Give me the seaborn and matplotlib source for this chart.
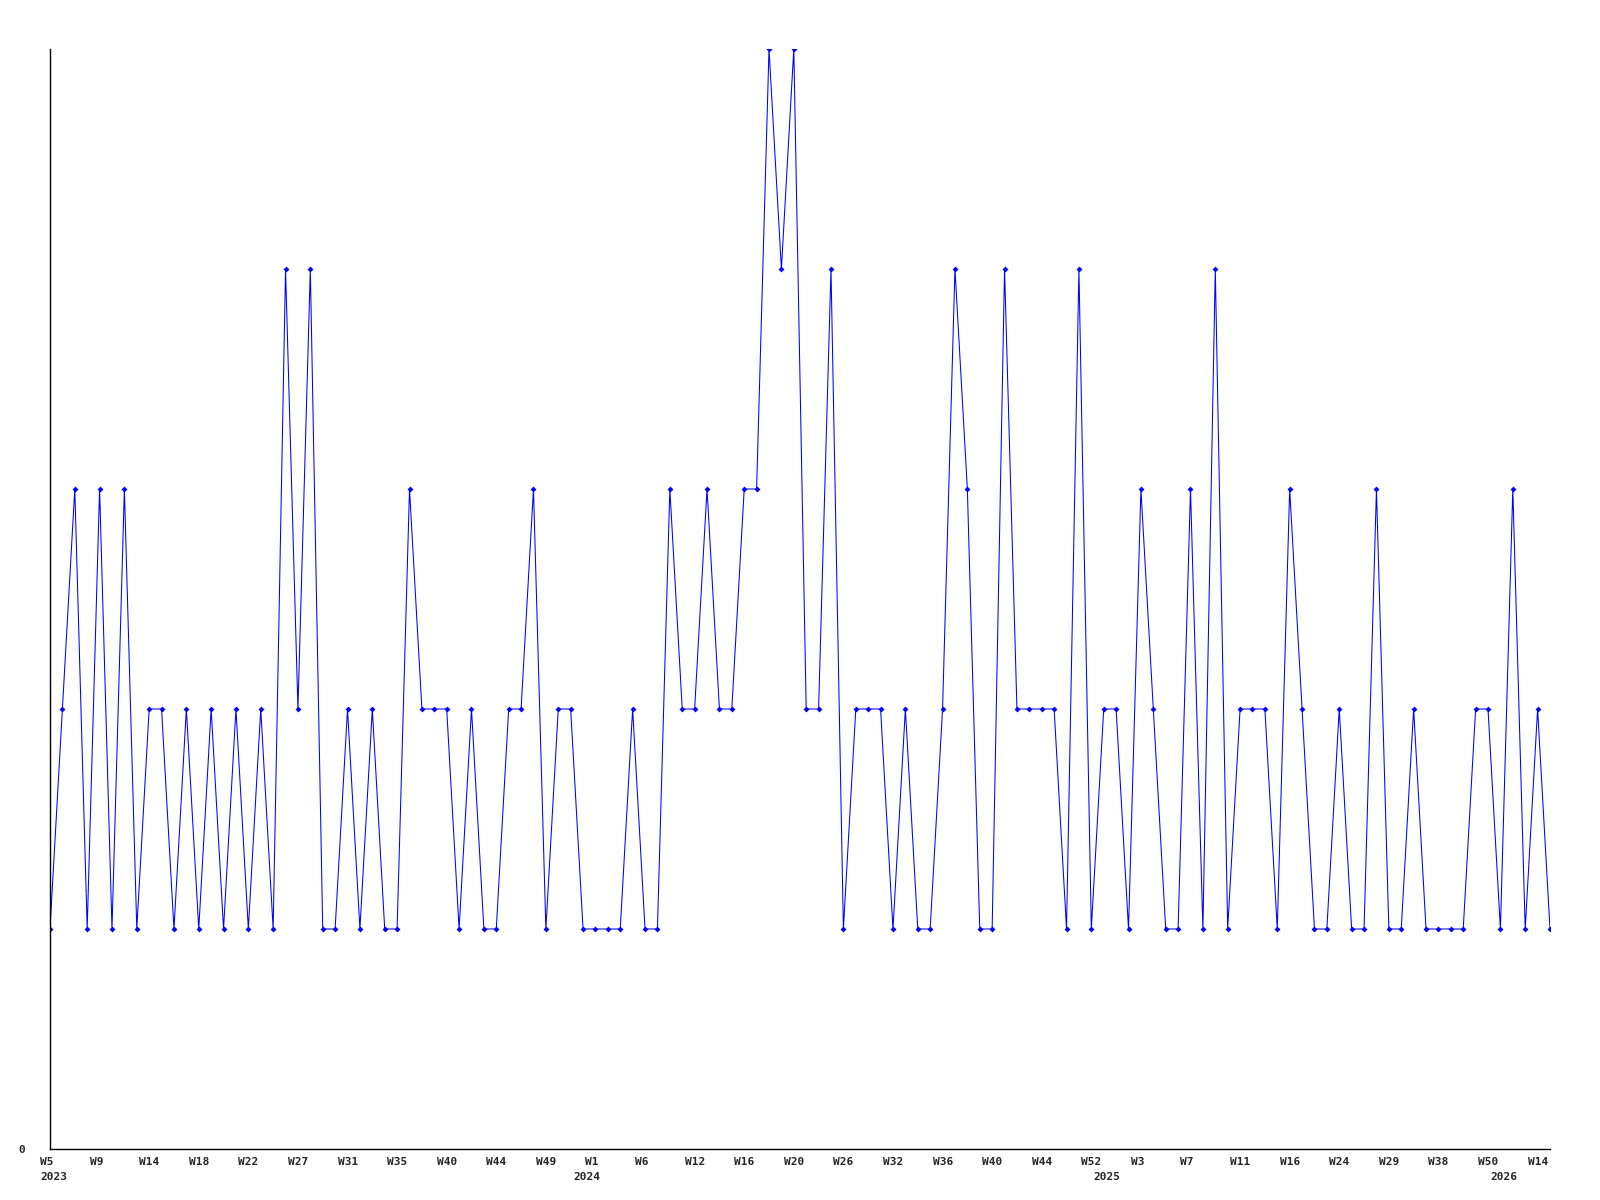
import matplotlib
matplotlib.use("Agg")
import matplotlib.pyplot as plt
import matplotlib.transforms as mtransforms
import numpy as np
import seaborn as sns

# weekly counts, one point per reported week
values = [
    1, 2, 3, 1, 3, 1, 3, 1, 2, 2,
    1, 2, 1, 2, 1, 2, 1, 2, 1, 4,
    2, 4, 1, 1, 2, 1, 2, 1, 1, 3,
    2, 2, 2, 1, 2, 1, 1, 2, 2, 3,
    1, 2, 2, 1, 1, 1, 1, 2, 1, 1,
    3, 2, 2, 3, 2, 2, 3, 3, 5, 4,
    5, 2, 2, 4, 1, 2, 2, 2, 1, 2,
    1, 1, 2, 4, 3, 1, 1, 4, 2, 2,
    2, 2, 1, 4, 1, 2, 2, 1, 3, 2,
    1, 1, 3, 1, 4, 1, 2, 2, 2, 1,
    3, 2, 1, 1, 2, 1, 1, 3, 1, 1,
    2, 1, 1, 1, 1, 2, 2, 1, 3, 1,
    2, 1,
]

# a week label on every 4th point
week_labels = [
    "W5", "W9", "W14", "W18", "W22", "W27", "W31", "W35", "W40", "W44",
    "W49", "W1", "W6", "W12", "W16", "W20", "W26", "W32", "W36", "W40",
    "W44", "W52", "W3", "W7", "W11", "W16", "W24", "W29", "W38", "W50",
    "W14",
]

# year labels and the point where each year starts
year_labels = ["2023", "2024", "2025", "2026"]
year_starts = [0, 43, 85, 117]

sns.set_theme(style="white")
plt.rcParams["font.family"] = ["DejaVu Sans Mono", "DejaVu Sans"]

fig = plt.figure(figsize=(16, 12), dpi=100)
ax = fig.add_axes([0.03125, 0.0425, 0.9375, 0.9167])

x = np.arange(len(values))
sns.lineplot(
    x=x, y=values, ax=ax, color="#0000ff", linewidth=0.75,
    marker="D", markersize=3, markeredgewidth=0,
)

ax.set_xlim(0, len(values) - 1)
ax.set_ylim(0, max(values))
ax.set_xlabel("")
ax.set_ylabel("")

for side in ["top", "right"]:
    ax.spines[side].set_visible(False)
for side in ["left", "bottom"]:
    ax.spines[side].set_color("black")
    ax.spines[side].set_linewidth(1.0)

ax.set_yticks([0])
ax.set_yticklabels(["0"])
ax.tick_params(axis="y", length=0, pad=18, labelsize=8)

# keep the 2023 label even though it sits on the first week tick
ax.xaxis.remove_overlapping_locs = False
ax.set_xticks(x[::4][: len(week_labels)])
ax.set_xticklabels(week_labels, ha="left", fontsize=8, fontweight="bold")
ax.set_xticks(year_starts, minor=True)
ax.set_xticklabels(year_labels, minor=True, ha="left", fontsize=8, fontweight="bold")
ax.tick_params(axis="x", which="major", length=0, pad=5.5)
ax.tick_params(axis="x", which="minor", length=0, pad=16.5)
for lbl in ax.get_yticklabels():
    lbl.set_fontweight("bold")

# labels start a little left of their point
shift = mtransforms.ScaledTranslation(-10 / 100, 0, fig.dpi_scale_trans)
for lbl in ax.get_xticklabels(which="both"):
    lbl.set_transform(lbl.get_transform() + shift)

ax.grid(False)
fig.savefig("out.png", dpi=100)
